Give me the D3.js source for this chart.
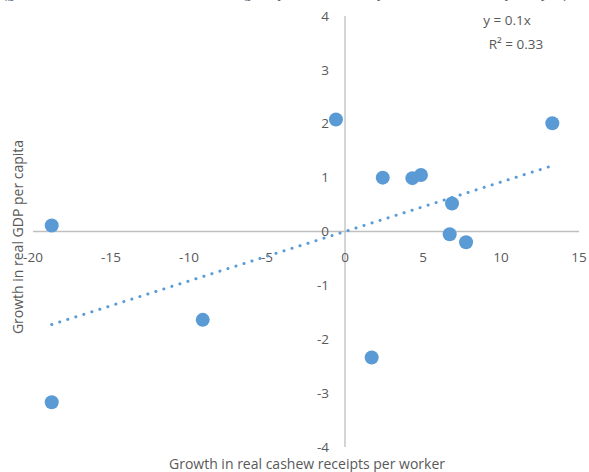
<!DOCTYPE html>
<html>
<head>
<meta charset="utf-8">
<script src="https://cdn.jsdelivr.net/npm/d3@7"></script>
<style>
  html, body { margin: 0; padding: 0; background: #fff; }
  svg { display: block; }
</style>
</head>
<body>
<svg id="chart" width="589" height="472"></svg>
<script>
// Data
const xValues = [-18.8, -18.8, -9.12, -0.58, 2.42, 1.71, 4.32, 4.87, 6.71, 7.76, 6.86, 13.29];
const yValues = [0.11, -3.17, -1.64, 2.08, 1.0, -2.34, 0.99, 1.05, -0.05, -0.2, 0.52, 2.01];
const xTicks = [-20, -15, -10, -5, 0, 5, 10, 15];
const yTicks = [-4, -3, -2, -1, 0, 1, 2, 3, 4];
const xTitle = "Growth in real cashew receipts per worker";
const yTitle = "Growth in real GDP per capita";
const eqLabel = "y = 0.1x";
const r2Label = "R² = 0.33";
const topTitle = "(growth rates in real terms, annual average in percent, cashew per worker and GDP per capita)";

const svg = d3.select("#chart");
const font = "'Open Sans', 'Liberation Sans', sans-serif";
const textColor = "#595959";
const axisColor = "#bfbfbf";
const blue = "#5b9bd5";

const x = d3.scaleLinear().domain([-20, 15]).range([33, 579]);
const y = d3.scaleLinear().domain([-4, 4]).range([447, 16]);

// cut-off title at the top (only descenders visible, as in the reference)
svg.append("text")
  .attr("x", 2).attr("y", -2)
  .attr("font-family", "'Liberation Serif', serif")
  .attr("font-size", 15)
  .attr("fill", "#44546a")
  .text(topTitle);

// axes lines
svg.append("line")
  .attr("x1", x(-20)).attr("x2", x(15))
  .attr("y1", y(0)).attr("y2", y(0))
  .attr("stroke", axisColor).attr("stroke-width", 1.3);
svg.append("line")
  .attr("x1", x(0)).attr("x2", x(0))
  .attr("y1", y(4)).attr("y2", y(-4))
  .attr("stroke", axisColor).attr("stroke-width", 1.3);

// x tick labels
svg.append("g").selectAll("text").data(xTicks).join("text")
  .attr("x", d => x(d))
  .attr("y", y(0) + 30)
  .attr("text-anchor", "middle")
  .attr("font-family", font).attr("font-size", 13.5)
  .attr("fill", textColor)
  .text(d => String(d));

// y tick labels
svg.append("g").selectAll("text").data(yTicks).join("text")
  .attr("x", x(0) - 16)
  .attr("y", d => y(d))
  .attr("dy", "0.35em")
  .attr("text-anchor", "end")
  .attr("font-family", font).attr("font-size", 13.5)
  .attr("fill", textColor)
  .text(d => String(d));

// trendline through origin (least squares)
const pts = xValues.map((v, i) => ({x: v, y: yValues[i]}));
const slope = d3.sum(pts, p => p.x * p.y) / d3.sum(pts, p => p.x * p.x);
const [xmin, xmax] = d3.extent(xValues);
svg.append("line")
  .attr("x1", x(xmin)).attr("y1", y(slope * xmin))
  .attr("x2", x(xmax)).attr("y2", y(slope * xmax))
  .attr("stroke", blue).attr("stroke-width", 3)
  .attr("stroke-linecap", "round")
  .attr("stroke-dasharray", "0.1 8.3");

// points
svg.append("g").selectAll("circle").data(pts).join("circle")
  .attr("cx", d => x(d.x)).attr("cy", d => y(d.y))
  .attr("r", 7)
  .attr("fill", blue);

// equation labels
svg.append("text")
  .attr("x", 507).attr("y", 25)
  .attr("text-anchor", "middle")
  .attr("font-family", font).attr("font-size", 13.5)
  .attr("fill", textColor).text(eqLabel);
svg.append("text")
  .attr("x", 516).attr("y", 49)
  .attr("text-anchor", "middle")
  .attr("font-family", font).attr("font-size", 13.5)
  .attr("fill", textColor).text(r2Label);

// axis titles
svg.append("text")
  .attr("x", 307).attr("y", 469)
  .attr("text-anchor", "middle")
  .attr("font-family", font).attr("font-size", 14)
  .attr("fill", textColor).text(xTitle);
svg.append("text")
  .attr("transform", "translate(23,237) rotate(-90)")
  .attr("text-anchor", "middle")
  .attr("font-family", font).attr("font-size", 14)
  .attr("fill", textColor).text(yTitle);
</script>
</body>
</html>
